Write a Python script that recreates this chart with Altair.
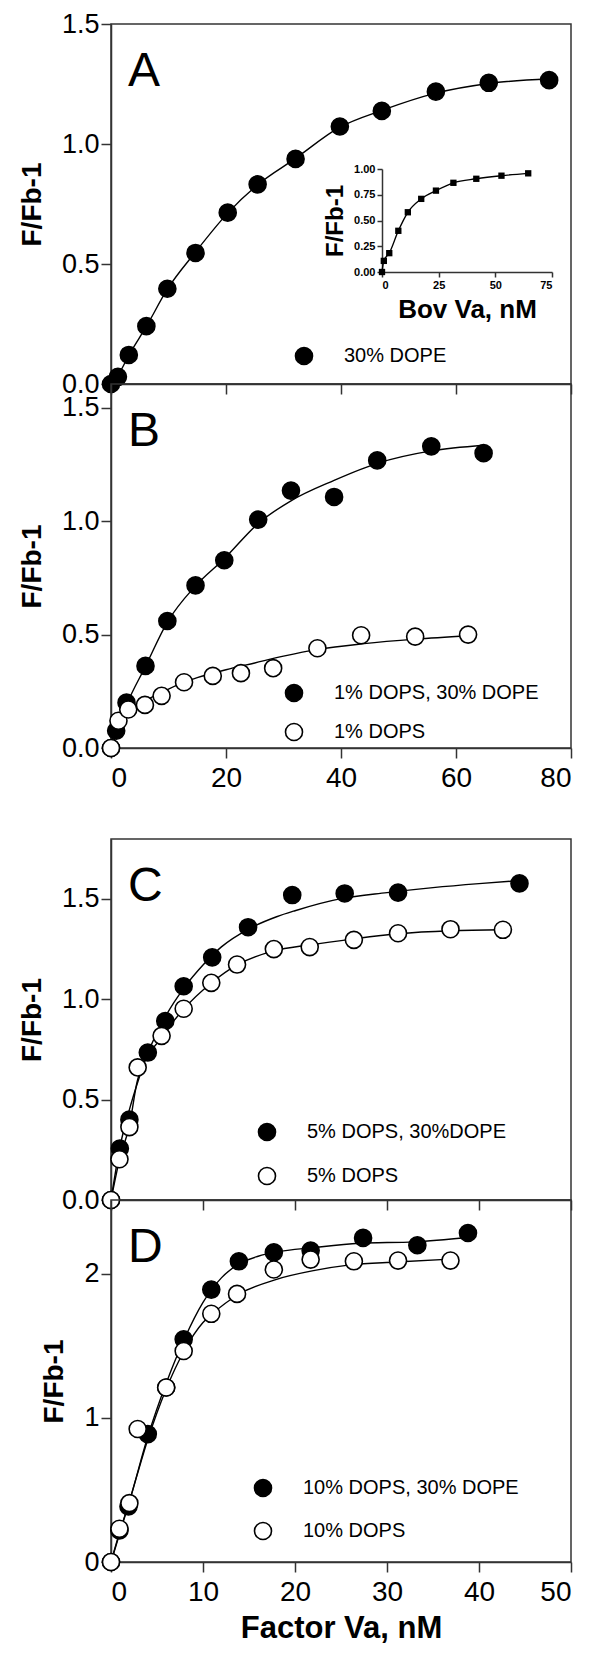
import altair as alt
import pandas as pd

FONT = "Liberation Sans"

# ---------------- data ----------------
panel_letters = ["A", "B", "C", "D"]

# Panel A : 30% DOPE
a_labels = ["30% DOPE"]
a_x = [0, 1.2, 3.1, 6.15, 9.8, 14.7, 20.3, 25.5, 32.1, 39.8, 47.1, 56.5, 65.7, 76.2]
a_y = [0, 0.03, 0.121, 0.241, 0.397, 0.546, 0.714, 0.832, 0.938, 1.073, 1.138, 1.218, 1.255, 1.266]
a_fit_x = [0, 1.2, 3.1, 6.15, 9.8, 14.7, 20.3, 25.5, 32.1, 39.8, 47.1, 56.5, 65.7, 76.2]
a_fit_y = [0, 0.035, 0.12, 0.24, 0.395, 0.55, 0.712, 0.83, 0.94, 1.07, 1.14, 1.212, 1.252, 1.272]

# Inset : Bov Va
inset_x = [0, 0.8, 3.2, 7.2, 11.4, 17.3, 23.8, 31.5, 41.6, 52.7, 64.5]
inset_y = [0, 0.108, 0.183, 0.40, 0.58, 0.71, 0.79, 0.866, 0.905, 0.935, 0.958]

# Panel B
b_labels = ["1% DOPS, 30% DOPE", "1% DOPS"]
b1_x = [0, 0.9, 2.7, 6.0, 9.8, 14.7, 19.7, 25.6, 31.3, 38.8, 46.3, 55.7, 64.8]
b1_y = [0, 0.076, 0.20, 0.362, 0.56, 0.717, 0.828, 1.007, 1.135, 1.107, 1.268, 1.33, 1.30]
b2_x = [0, 1.3, 3.0, 5.9, 8.8, 12.7, 17.7, 22.6, 28.2, 35.9, 43.5, 52.9, 62.1]
b2_y = [0, 0.12, 0.17, 0.19, 0.23, 0.29, 0.318, 0.33, 0.352, 0.44, 0.497, 0.491, 0.50]
b1_fit_x = [0, 2.7, 6, 9.8, 14.7, 19.7, 25.6, 31.3, 38.8, 46.3, 55.7, 64.8]
b1_fit_y = [0, 0.19, 0.36, 0.555, 0.715, 0.835, 0.99, 1.09, 1.18, 1.255, 1.31, 1.335]
b2_fit_x = [0, 2, 5, 10, 15, 20, 25, 30, 36, 44, 53, 62.1]
b2_fit_y = [0, 0.12, 0.19, 0.26, 0.31, 0.345, 0.375, 0.405, 0.435, 0.46, 0.48, 0.495]

# Panel C
c_labels = ["5% DOPS, 30%DOPE", "5% DOPS"]
c1_x = [0, 0.96, 2.0, 4.0, 5.9, 7.9, 11.0, 14.9, 19.7, 25.4, 31.2, 44.4]
c1_y = [0, 0.256, 0.40, 0.734, 0.891, 1.064, 1.208, 1.358, 1.518, 1.526, 1.530, 1.576]
c2_x = [0, 0.92, 2.0, 2.9, 5.5, 7.9, 10.9, 13.7, 17.7, 21.6, 26.4, 31.2, 36.9, 42.6]
c2_y = [0, 0.203, 0.363, 0.66, 0.817, 0.952, 1.081, 1.172, 1.249, 1.259, 1.295, 1.328, 1.348, 1.345]
c1_fit_x = [0, 1, 2, 3, 4, 6, 8, 10, 12, 15, 18, 20, 25, 30, 35, 40, 44.4]
c1_fit_y = [0, 0.27, 0.45, 0.60, 0.73, 0.92, 1.06, 1.17, 1.26, 1.35, 1.41, 1.44, 1.50, 1.53, 1.555, 1.575, 1.59]
c2_fit_x = [0, 0.92, 2.0, 2.9, 5.5, 7.9, 10.9, 13.7, 17.7, 21.6, 26.4, 31.2, 36.9, 42.6]
c2_fit_y = [0, 0.2, 0.37, 0.6, 0.81, 0.95, 1.08, 1.17, 1.24, 1.27, 1.30, 1.325, 1.34, 1.345]

# Panel D
d_labels = ["10% DOPS, 30% DOPE", "10% DOPS"]
d1_x = [0, 0.92, 1.9, 4.0, 6.0, 7.9, 10.9, 13.9, 17.7, 21.7, 27.4, 33.3, 38.8]
d1_y = [0, 0.219, 0.385, 0.887, 1.21, 1.544, 1.889, 2.085, 2.147, 2.159, 2.247, 2.196, 2.281]
d2_x = [0, 0.92, 2.0, 2.9, 6.0, 7.9, 10.9, 13.7, 17.7, 21.7, 26.4, 31.2, 36.9]
d2_y = [0, 0.23, 0.408, 0.922, 1.21, 1.463, 1.721, 1.859, 2.028, 2.097, 2.085, 2.09, 2.09]
d1_fit_x = [0, 1, 2, 4, 6, 8, 10, 12, 14, 16, 18, 22, 27, 33, 38.8]
d1_fit_y = [0, 0.22, 0.42, 0.87, 1.24, 1.55, 1.80, 1.97, 2.07, 2.12, 2.15, 2.18, 2.21, 2.22, 2.25]
d2_fit_x = [0, 1, 2, 4, 6, 8, 10, 11, 14, 18, 22, 26, 31, 36.9]
d2_fit_y = [0, 0.21, 0.42, 0.85, 1.20, 1.47, 1.66, 1.72, 1.86, 1.96, 2.02, 2.06, 2.08, 2.10]


def frame(series):
    rows = []
    for name, xs, ys in series:
        for xv, yv in zip(xs, ys):
            rows.append({"x": xv, "y": yv, "series": name})
    return pd.DataFrame(rows)


AX_COL = "#333333"


def y_axis(vals, fmt):
    return alt.Axis(values=vals, format=fmt, title="F/Fb-1", titleFont=FONT,
                    titleFontSize=28, titleFontWeight="bold", titlePadding=15,
                    labelFont=FONT, labelFontSize=27, labelPadding=2,
                    tickSize=10, grid=False)


def x_axis(vals, show_labels, title=None):
    if title:
        return alt.Axis(values=vals, labels=show_labels, title=title,
                        titleFont=FONT, titleFontSize=31, titleFontWeight="bold",
                        titlePadding=7, labelFont=FONT, labelFontSize=28,
                        labelPadding=6, tickSize=10, grid=False)
    return alt.Axis(values=vals, labels=show_labels, title=None,
                    labelFont=FONT, labelFontSize=28, labelPadding=6,
                    tickSize=10, grid=False)


def panel(pts, fits, labels, ydom, yvals, yfmt, height, xdom, xvals,
          xaxis, letter, leg_x, leg_y, row_pad):
    xs = alt.Scale(domain=xdom, nice=False, zero=False)
    ys = alt.Scale(domain=ydom, nice=False, zero=False)
    yax = y_axis(yvals, yfmt)
    lines = alt.Chart(fits).mark_line(color="black", strokeWidth=1.4,
                                      interpolate="monotone").encode(
        x=alt.X("x:Q", scale=xs, axis=xaxis),
        y=alt.Y("y:Q", scale=ys, axis=yax),
        detail="series:N",
    )
    dots = alt.Chart(pts).mark_circle(size=290, stroke="black", strokeWidth=1.6,
                                      opacity=1).encode(
        x=alt.X("x:Q", scale=xs, axis=xaxis),
        y=alt.Y("y:Q", scale=ys, axis=yax),
        fill=alt.Fill("series:N",
                      scale=alt.Scale(domain=labels,
                                      range=["black", "white"][:len(labels)]),
                      legend=alt.Legend(title=None, orient="none",
                                        legendX=leg_x, legendY=leg_y,
                                        symbolType="circle", symbolSize=290,
                                        symbolStrokeColor="black",
                                        symbolStrokeWidth=1.6,
                                        labelFont=FONT, labelFontSize=20,
                                        labelColor="black", labelOffset=30,
                                        labelLimit=400, rowPadding=row_pad,
                                        padding=0)),
    )
    txt = alt.Chart(pd.DataFrame({"t": [letter]})).mark_text(
        font=FONT, fontSize=48, align="left", baseline="alphabetic",
        color="black").encode(x=alt.value(17), y=alt.value(62), text="t:N")
    return alt.layer(lines, dots, txt)


# ---------- panel A (with inset) ----------
A_H = 360
a_main = panel(frame([(a_labels[0], a_x, a_y)]),
               frame([(a_labels[0], a_fit_x, a_fit_y)]),
               a_labels, [0, 1.5], [0, 0.5, 1.0, 1.5], ".1f", A_H,
               [0, 80], [0, 20, 40, 60, 80],
               x_axis([0, 20, 40, 60, 80], False),
               panel_letters[0], 183, 322, 15)

in_df = pd.DataFrame({"x": inset_x, "y": inset_y})
in_xs = alt.Scale(domain=[0, 75], range=[271, 441], nice=False, zero=False)
in_ys = alt.Scale(domain=[0, 1], range=[248, 145], nice=False, zero=False)
in_xax = alt.Axis(values=[0, 25, 50, 75], orient="bottom", offset=-(A_H - 248),
                  title="Bov Va, nM", titleFont=FONT, titleFontSize=26,
                  titleFontWeight="bold", titlePadding=6,
                  labelFont=FONT, labelFontSize=11, labelFontWeight="bold",
                  labelPadding=2, tickSize=5, grid=False)
in_yax = alt.Axis(values=[0, 0.25, 0.5, 0.75, 1.0], format=".2f", orient="left",
                  offset=-271, title="F/Fb-1", titleFont=FONT, titleFontSize=24,
                  titleFontWeight="bold", titlePadding=6,
                  labelFont=FONT, labelFontSize=11, labelFontWeight="bold",
                  labelPadding=2, tickSize=5, grid=False)
in_line = alt.Chart(in_df).mark_line(color="black", strokeWidth=1.4,
                                     interpolate="monotone").encode(
    x=alt.X("x:Q", scale=in_xs, axis=in_xax),
    y=alt.Y("y:Q", scale=in_ys, axis=in_yax))
in_pts = alt.Chart(in_df).mark_square(size=40, color="black", opacity=1).encode(
    x=alt.X("x:Q", scale=in_xs, axis=in_xax),
    y=alt.Y("y:Q", scale=in_ys, axis=in_yax))
inset = alt.layer(in_line, in_pts)

panel_a = alt.layer(a_main, inset).resolve_scale(
    x="independent", y="independent").properties(width=460, height=A_H)

# ---------- panel B ----------
panel_b = panel(frame([(b_labels[0], b1_x, b1_y), (b_labels[1], b2_x, b2_y)]),
                frame([(b_labels[0], b1_fit_x, b1_fit_y),
                       (b_labels[1], b2_fit_x, b2_fit_y)]),
                b_labels, [0, 1.605], [0, 0.5, 1.0, 1.5], ".1f", 364,
                [0, 80], [0, 20, 40, 60, 80],
                x_axis([0, 20, 40, 60, 80], True),
                panel_letters[1], 173, 299, 15).properties(width=460, height=364)

spacer = alt.Chart(pd.DataFrame({"t": [""]})).mark_text().encode(
    text="t:N").properties(width=460, height=91,
                           view=alt.ViewBackground(strokeOpacity=0))

# ---------- panel C ----------
panel_c = panel(frame([(c_labels[0], c1_x, c1_y), (c_labels[1], c2_x, c2_y)]),
                frame([(c_labels[0], c1_fit_x, c1_fit_y),
                       (c_labels[1], c2_fit_x, c2_fit_y)]),
                c_labels, [0, 1.797], [0, 0.5, 1.0, 1.5], ".1f", 361,
                [0, 50], [0, 10, 20, 30, 40, 50],
                x_axis([0, 10, 20, 30, 40, 50], False),
                panel_letters[2], 146, 283, 20).properties(width=460, height=361)

# ---------- panel D ----------
panel_d = panel(frame([(d_labels[0], d1_x, d1_y), (d_labels[1], d2_x, d2_y)]),
                frame([(d_labels[0], d1_fit_x, d1_fit_y),
                       (d_labels[1], d2_fit_x, d2_fit_y)]),
                d_labels, [0, 2.51], [0, 1, 2], "d", 362,
                [0, 50], [0, 10, 20, 30, 40, 50],
                x_axis([0, 10, 20, 30, 40, 50], True, "Factor Va, nM"),
                panel_letters[3], 142, 278, 19).properties(width=460, height=362)

chart = alt.vconcat(panel_a, panel_b, spacer, panel_c, panel_d,
                    spacing=0, bounds="flush").resolve_scale(
    x="independent", y="independent", fill="independent"
).resolve_legend(fill="independent").configure(
    font=FONT, padding={"left": 9, "top": 1, "right": 4, "bottom": 0}
).configure_view(stroke=AX_COL, strokeWidth=1.5).configure_axis(
    domainColor=AX_COL, tickColor=AX_COL, domainWidth=1.5, tickWidth=1.5,
    labelColor="black", titleColor="black", zindex=1)

chart.save("out.html", embed_options={"renderer": "svg", "actions": False})
